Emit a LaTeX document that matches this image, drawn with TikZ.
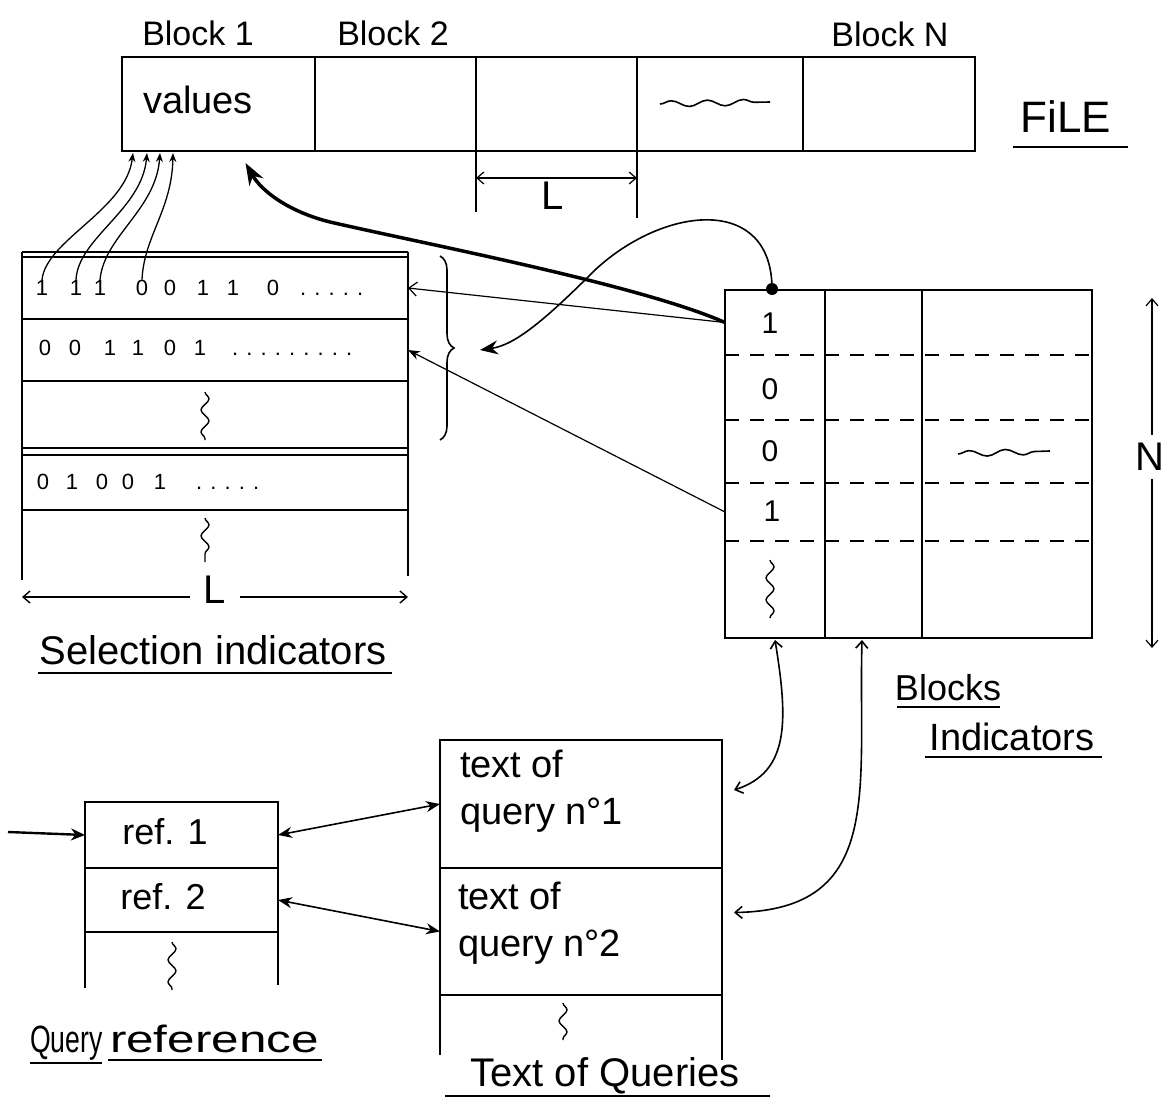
\documentclass[tikz,border=0pt]{standalone}
\usepackage{fontspec}
\setmainfont{Liberation Sans}
\usetikzlibrary{arrows.meta,decorations.pathmorphing,decorations.pathreplacing,calc}
\begin{document}
\begin{tikzpicture}[x=1pt,y=-1pt,
  every node/.style={inner sep=0pt, outer sep=0pt},
  frame/.style={line width=1.8pt},
  fcell/.style={draw, line width=1.8pt, minimum height=94pt},
  scell/.style={draw, line width=1.8pt, minimum width=386pt},
  qcell/.style={draw, line width=1.8pt, minimum width=282pt},
  rcell/.style={draw, line width=1.8pt, minimum width=193pt},
  kcell/.style={minimum width=100pt},
  lbl/.style={font=\fontsize{36}{40}\selectfont},
  big/.style={font=\fontsize{40}{44}\selectfont},
  bit/.style={font=\fontsize{22}{26}\selectfont, anchor=base},
  kbit/.style={font=\fontsize{30}{34}\selectfont},
  uline/.style={line width=2.2pt},
  wavyh/.style={line width=1.6pt, decorate, decoration={snake, amplitude=3pt, segment length=36pt}},
  wavyv/.style={line width=1.4pt, decorate, decoration={snake, amplitude=4pt, segment length=22pt}},
  dashrow/.style={line width=1.6pt, dash pattern=on 14pt off 11pt},
  thin arrow/.style={line width=1.2pt, -{Stealth[length=12pt,width=9pt]}},
  barb/.style={line width=1.4pt, {Straight Barb[length=7pt,width=12pt]}-{Straight Barb[length=7pt,width=12pt]}},
]
\useasboundingbox (0,0) rectangle (1164,1100);

% ---------------- FILE ----------------
\node[fcell, minimum width=193pt] (f1) at (218.5,104) {};
\node[fcell, minimum width=161pt] (f2) at (395.5,104) {};
\node[fcell, minimum width=161pt] (f3) at (556.5,104) {};
\node[fcell, minimum width=166pt] (f4) at (720,104) {};
\node[fcell, minimum width=172pt] (f5) at (889,104) {};
\node[lbl, font=\fontsize{34}{38}\selectfont] (bl1) at (198,33) {Block 1};
\node[lbl, font=\fontsize{34}{38}\selectfont] (bl2) at (393,33) {Block 2};
\node[lbl, font=\fontsize{34}{38}\selectfont] (blN) at (890,34) {Block N};
\node[lbl, font=\fontsize{38}{42}\selectfont] (vals) at (198,100) {values};
\draw[wavyh] (660,104) -- (770,102);
\node[font=\fontsize{44}{48}\selectfont] (file) at (1066,117) {FiLE};
\draw[uline] (1013,147) -- (1128,147);

% L dimension under file
\coordinate (l1a) at (476,151); \coordinate (l1b) at (476,212);
\coordinate (l2a) at (637,151); \coordinate (l2b) at (637,218);
\draw[line width=1.2pt] (l1a) -- (l1b);
\draw[line width=1.2pt] (l2a) -- (l2b);
\draw[barb, line width=1.2pt] (476,178) -- (637,178);
\node[big] (Lf) at (553,196) {L};

% ---------------- SELECTION INDICATORS ----------------
\node[scell, minimum height=62pt] (s1) at (215,288) {};
\node[scell, minimum height=62pt] (s2) at (215,350) {};
\node[scell, minimum height=67pt] (s3) at (215,414.5) {};
\node[scell, minimum height=55pt] (s4) at (215,482.5) {};
\draw[frame] (22,252) -- (408,252);
\draw[frame] (22,252) -- (22,580);
\draw[frame] (408,252) -- (408,576);
\foreach \d/\x [count=\i] in {1/42,1/76,1/100,0/142,0/170,1/203,1/233,0/273}
  \node[bit] (b\i) at (\x,295) {\d};
\node[bit, anchor=base west] (bd1) at (300,295) {. . . . .};
\foreach \d/\x [count=\i] in {0/45,0/75,1/110,1/138,0/170,1/200}
  \node[bit] (c\i) at (\x,355) {\d};
\node[bit, anchor=base west] (cd1) at (232,355) {. . . . . . . . .};
\foreach \d/\x [count=\i] in {0/43,1/72,0/102,0/128,1/160}
  \node[bit] (e\i) at (\x,489) {\d};
\node[bit, anchor=base west] (ed1) at (196,489) {. . . . .};
\draw[wavyv] (205,392) -- (205,440);
\draw[wavyv] (205,518) -- (205,562);
% L dimension under table
\draw[barb] (22,597) -- (408,597);
\node[big, fill=white, inner xsep=14pt, inner ysep=2pt] (Ls) at (215,590) {L};
\node[big] (selT) at (213,650) {Selection indicators};
\draw[uline] (38,673) -- (392,673);

% brace
\draw[line width=1.6pt, decorate, decoration={brace, amplitude=14pt}] (440,256) -- (440,440);
\coordinate (brtip) at (480,350);

% ---------------- BLOCKS INDICATORS ----------------
\draw[frame] (725,290) rectangle (1092,638);
\draw[frame] (825,290) -- (825,638);
\draw[frame] (922,290) -- (922,638);
\foreach \y in {355,420,483,541}
  \draw[dashrow] (725,\y) -- (1092,\y);
\node[kcell, minimum height=65pt] (k1) at (775,322.5) {};
\node[kcell, minimum height=65pt] (k2) at (775,387.5) {};
\node[kcell, minimum height=63pt] (k3) at (775,451.5) {};
\node[kcell, minimum height=58pt] (k4) at (775,512) {};
\node[kcell, minimum height=97pt] (k5) at (775,589.5) {};
\node[kbit] (t1) at (770,323) {1};
\node[kbit] (t2) at (770,389) {0};
\node[kbit] (t3) at (770,451) {0};
\node[kbit] (t4) at (772,511) {1};
\draw[wavyv] (770,560) -- (770,618);
\draw[wavyh] (958,454) -- (1050,451);
\node[circle, fill, minimum size=12pt] (dot) at (772,289) {};
% N dimension
\coordinate (n1) at (1152,298); \coordinate (n2) at (1152,648);
\draw[barb, line width=1.2pt] (n1) -- (n2);
\node[big, fill=white, inner ysep=8pt] (N) at (1150,457) {N};
\node[big, font=\fontsize{36}{40}\selectfont] (blk) at (948,688) {Blocks};
\draw[uline] (897,707) -- (1000,707);
\node[big, font=\fontsize{38}{42}\selectfont] (ind) at (1012,737) {Indicators};
\draw[uline] (925,757) -- (1102,757);
\coordinate (kb1) at (775,640);
\coordinate (kb2) at (862,640);

% ---------------- QUERIES ----------------
\node[qcell, minimum height=128pt] (q1) at (581,804) {};
\node[qcell, minimum height=127pt] (q2) at (581,931.5) {};
\draw[frame] (440,995) -- (440,1055);
\draw[frame] (722,995) -- (722,1060);
\node[font=\fontsize{38}{47}\selectfont, align=left, anchor=north west] (qt1) at (460,750) {text of\\query n°1};
\node[font=\fontsize{38}{47}\selectfont, align=left, anchor=north west] (qt2) at (458,882) {text of\\query n°2};
\draw[wavyv] (563,1003) -- (563,1040);
\node[big] (tq) at (605,1076) {Text of Queries};
\draw[uline] (445,1096) -- (770,1096);

\node[rcell, minimum height=66pt] (r1) at (181.5,835) {};
\node[rcell, minimum height=64pt] (r2) at (181.5,900) {};
\draw[frame] (85,932) -- (85,988);
\draw[frame] (278,932) -- (278,985);
\node[font=\fontsize{36}{40}\selectfont] (rt1) at (165,832) {ref. 1};
\node[font=\fontsize{36}{40}\selectfont] (rt2) at (163,897) {ref. 2};
\draw[wavyv] (172,942) -- (172,990);
\node[font=\fontsize{38}{42}\selectfont, anchor=base west] (qr1) at (30,1052) {\scalebox{0.7}[1]{Query}};
\node[font=\fontsize{38}{42}\selectfont, anchor=base west] (qr2) at (110,1052) {\scalebox{1.3}[1]{reference}};
\draw[uline] (30,1063) -- (102,1063);
\draw[uline] (108,1060) -- (322,1060);

% ---------------- CONNECTORS ----------------
\foreach \i/\x in {1/133,2/147,3/160,4/173}
  \coordinate (ft\i) at (\x,153);
\draw[line width=1.3pt, -{Stealth[length=9pt,width=7pt]}] (b1.north) .. controls (46,240) and (126,210) .. (ft1);
\draw[line width=1.3pt, -{Stealth[length=9pt,width=7pt]}] (b2.north) .. controls (78,238) and (142,210) .. (ft2);
\draw[line width=1.3pt, -{Stealth[length=9pt,width=7pt]}] (b3.north) .. controls (104,236) and (156,210) .. (ft3);
\draw[line width=1.3pt, -{Stealth[length=9pt,width=7pt]}] (b4.north) .. controls (144,236) and (172,210) .. (ft4);

\draw[line width=3.5pt, -{Stealth[length=22pt,width=16pt]}] (k1.west) .. controls (640,285) and (430,245) .. (330,222) .. controls (290,212) and (262,192) .. ([xshift=27pt,yshift=-12pt]f1.south);
\draw[thin arrow, -{Straight Barb[length=8pt,width=14pt]}] (k1.west) -- (s1.east);
\draw[thin arrow] (k4.west) -- (s2.east);
\draw[line width=1.6pt, -{Stealth[length=18pt,width=14pt]}] (dot.center) .. controls (772,195) and (665,205) .. (595,270) .. controls (545,320) and (515,345) .. (brtip);

\coordinate (inq) at (8,832);
\draw[line width=2.4pt, -{Stealth[length=14pt,width=12pt]}] (inq) -- (r1.west);
\draw[line width=1.6pt, {Stealth[length=14pt,width=11pt]}-{Stealth[length=14pt,width=11pt]}] (r1.east) -- (q1.west);
\draw[line width=1.6pt, {Stealth[length=14pt,width=11pt]}-{Stealth[length=14pt,width=11pt]}] (r2.east) -- (q2.west);
\draw[barb, line width=1.6pt] (kb1) .. controls (788,720) and (790,772) .. ([xshift=12pt,yshift=14pt]q1.east);
\draw[barb, line width=1.6pt] (kb2) .. controls (858,790) and (885,910) .. ([xshift=12pt,yshift=19pt]q2.east);
\end{tikzpicture}
\end{document}
